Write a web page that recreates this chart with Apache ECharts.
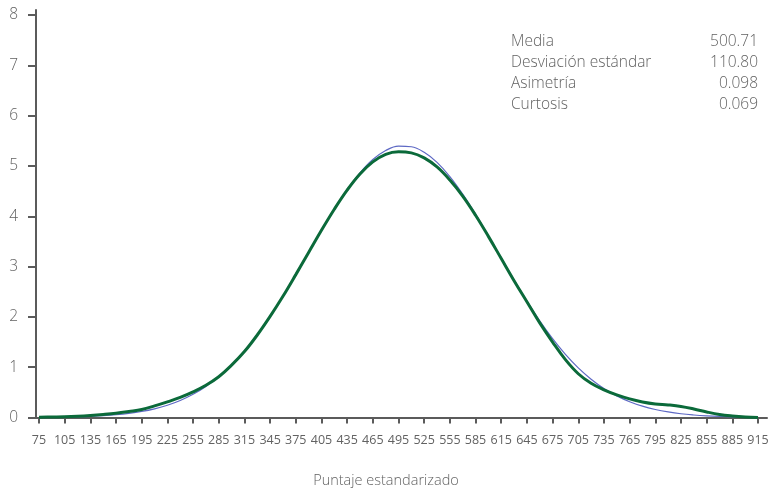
<!DOCTYPE html>
<html>
<head>
<meta charset="utf-8">
<script src="https://cdn.jsdelivr.net/npm/echarts@6/dist/echarts.min.js"></script>
<style>
  html, body { margin: 0; padding: 0; background: #ffffff; }
  #chart { width: 772px; height: 490px; }
</style>
</head>
<body>
<div id="chart"></div>
<script>
// Score grid (every 15 points)
const scores = [75, 90, 105, 120, 135, 150, 165, 180, 195, 210, 225, 240, 255, 270, 285,
  300, 315, 330, 345, 360, 375, 390, 405, 420, 435, 450, 465, 480, 495, 510, 525, 540,
  555, 570, 585, 600, 615, 630, 645, 660, 675, 690, 705, 720, 735, 750, 765, 780, 795,
  810, 825, 840, 855, 870, 885, 900, 915];

// Reference normal curve (percent per 15-point band)
const normalCurve = [0.003, 0.006, 0.009, 0.015, 0.023, 0.036, 0.055, 0.082, 0.120, 0.173,
  0.244, 0.339, 0.461, 0.617, 0.812, 1.046, 1.324, 1.648, 2.011, 2.410, 2.836, 3.278,
  3.719, 4.142, 4.530, 4.864, 5.128, 5.307, 5.394, 5.382, 5.272, 5.071, 4.790, 4.442,
  4.044, 3.614, 3.172, 2.734, 2.313, 1.922, 1.567, 1.255, 0.987, 0.762, 0.577, 0.430,
  0.314, 0.225, 0.159, 0.110, 0.074, 0.050, 0.033, 0.021, 0.013, 0.008, 0.005];

// Observed score distribution
const observedCurve = [0.005, 0.010, 0.015, 0.025, 0.040, 0.060, 0.085, 0.120, 0.160, 0.230,
  0.310, 0.400, 0.510, 0.640, 0.810, 1.040, 1.310, 1.640, 2.010, 2.410, 2.840, 3.280,
  3.720, 4.140, 4.520, 4.840, 5.080, 5.230, 5.280, 5.260, 5.160, 4.980, 4.720, 4.400,
  4.020, 3.600, 3.160, 2.720, 2.300, 1.880, 1.500, 1.150, 0.870, 0.680, 0.550, 0.450,
  0.370, 0.310, 0.270, 0.250, 0.220, 0.170, 0.110, 0.060, 0.030, 0.010, 0.000];

// Axis tick labels
const xTicks = [75, 105, 135, 165, 195, 225, 255, 285, 315, 345, 375, 405, 435, 465, 495,
  525, 555, 585, 615, 645, 675, 705, 735, 765, 795, 825, 855, 885, 915];
const yTicks = [0, 1, 2, 3, 4, 5, 6, 7, 8];

// Summary statistics box
const statNames = ['Media', 'Desviación estándar', 'Asimetría', 'Curtosis'];
const statValues = ['500.71', '110.80', '0.098', '0.069'];

const FONT = '"Open Sans", "DejaVu Sans", sans-serif';
const GREY = '#5b5b5b';
const TEXT = '#626262';

const pairs = (ys) => scores.map((x, i) => [x, ys[i]]);

const statGraphics = [];
statNames.forEach((name, i) => {
  statGraphics.push({
    type: 'text', left: 511, top: 34 + i * 21,
    style: { text: name, fill: TEXT, font: '300 15.5px ' + FONT }
  });
  statGraphics.push({
    type: 'text', right: 14, top: 34 + i * 21,
    style: { text: statValues[i], fill: TEXT, font: '300 15.5px ' + FONT, textAlign: 'right' }
  });
});

const chart = echarts.init(document.getElementById('chart'), null, { renderer: 'canvas' });
chart.setOption({
  animation: false,
  backgroundColor: '#ffffff',
  title: {
    text: 'Puntaje estandarizado',
    left: 'center',
    top: 468,
    textStyle: { fontFamily: FONT, fontWeight: 300, fontSize: 14.5, color: TEXT }
  },
  grid: { left: 36, right: 5, top: 10, bottom: 72.5, containLabel: false },
  xAxis: {
    type: 'value',
    min: 71.5,
    max: 925.5,
    axisLine: { show: true, lineStyle: { color: GREY, width: 2 } },
    axisTick: { show: true, length: 6, lineStyle: { color: GREY, width: 2 }, customValues: xTicks },
    axisLabel: {
      customValues: xTicks, margin: 16, color: TEXT, fontFamily: FONT, fontSize: 12.5, fontWeight: 'normal'
    },
    splitLine: { show: false }
  },
  yAxis: {
    type: 'value',
    min: 0,
    max: 8.1,
    axisLine: { show: true, lineStyle: { color: GREY, width: 2 } },
    axisTick: { show: true, length: 8, lineStyle: { color: GREY, width: 2 }, customValues: yTicks },
    axisLabel: {
      customValues: yTicks, margin: 18, color: TEXT, fontFamily: FONT, fontSize: 15.5, fontWeight: 300
    },
    splitLine: { show: false }
  },
  graphic: statGraphics,
  series: [
    {
      name: 'Normal',
      type: 'line',
      data: pairs(normalCurve),
      smooth: 0.4,
      symbol: 'none',
      lineStyle: { color: '#5d68c4', width: 1.2 },
      z: 2
    },
    {
      name: 'Observada',
      type: 'line',
      data: pairs(observedCurve),
      smooth: 0.4,
      symbol: 'none',
      lineStyle: { color: '#0b6a3a', width: 3 },
      z: 3
    }
  ]
});
</script>
</body>
</html>
